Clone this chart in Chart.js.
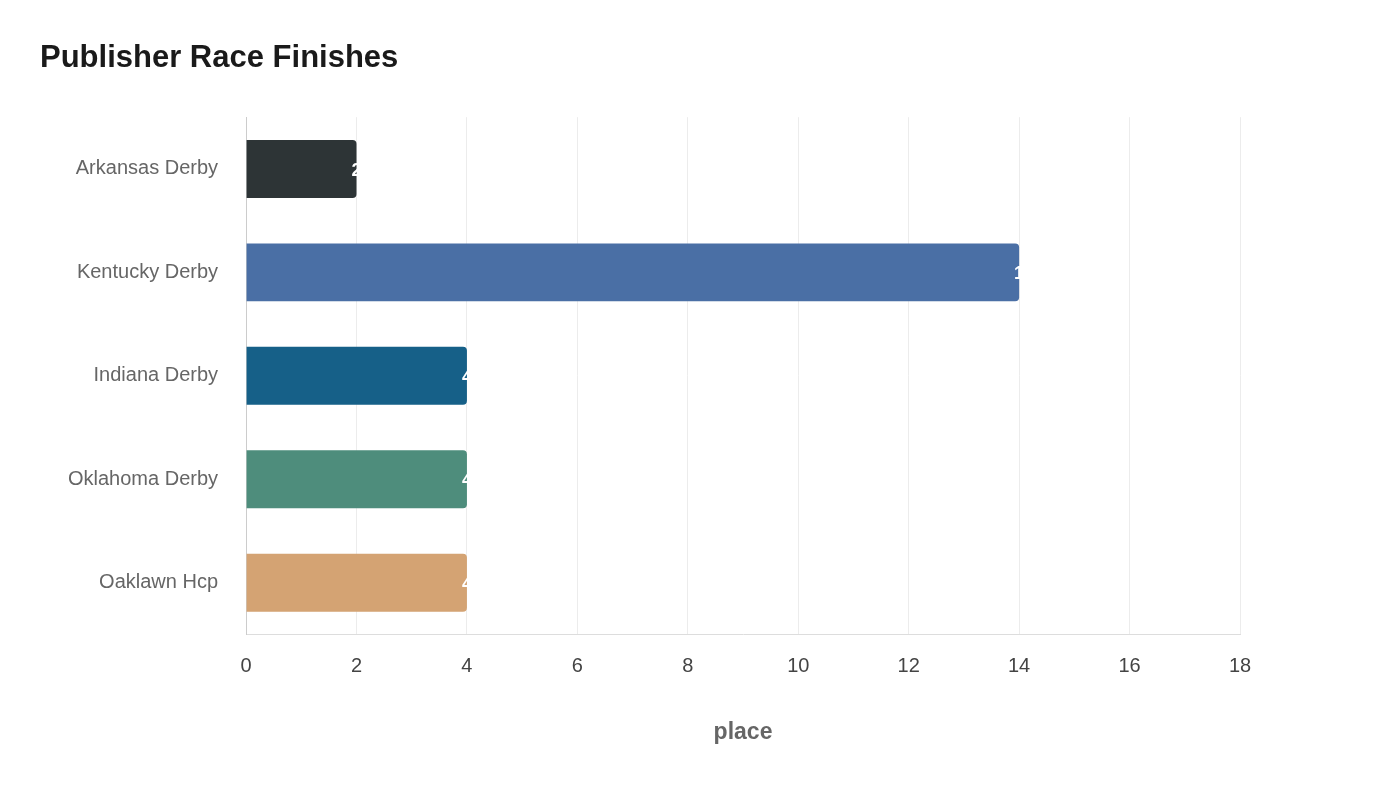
<!DOCTYPE html>
<html>
<head>
<meta charset="utf-8">
<script src="https://cdn.jsdelivr.net/npm/chart.js@4/dist/chart.umd.min.js"></script>
<style>
  body { margin: 0; background: #fff; }
  #wrap { width: 1400px; height: 800px; }
</style>
</head>
<body>
<div id="wrap"><canvas id="myChart"></canvas></div>
<script>
const races = ["Arkansas Derby", "Kentucky Derby", "Indiana Derby", "Oklahoma Derby", "Oaklawn Hcp"];
const places = [2, 14, 4, 4, 4];
const barColors = ["#2d3436", "#4a6fa5", "#166088", "#4e8d7c", "#d4a373"];

// white value labels just inside the bar end (they run off onto the white background)
const endLabels = {
  id: "endLabels",
  afterDatasetsDraw(chart) {
    const ctx = chart.ctx;
    const meta = chart.getDatasetMeta(0);
    ctx.save();
    ctx.fillStyle = "#ffffff";
    ctx.font = "bold 18px 'Liberation Sans', Arial, sans-serif";
    ctx.textAlign = "left";
    ctx.textBaseline = "middle";
    meta.data.forEach((bar, i) => {
      ctx.fillText(String(places[i]), bar.x - 5, bar.y + 2);
    });
    ctx.restore();
  }
};

new Chart(document.getElementById("myChart"), {
  type: "bar",
  data: {
    labels: races,
    datasets: [{
      data: places,
      backgroundColor: barColors,
      borderRadius: 4,
      borderSkipped: "start",
      barPercentage: 0.56,
      categoryPercentage: 1
    }]
  },
  options: {
    indexAxis: "y",
    responsive: true,
    maintainAspectRatio: false,
    animation: false,
    layout: { padding: { left: 40, right: 160, top: 40, bottom: 50 } },
    plugins: {
      legend: { display: false },
      tooltip: { enabled: false },
      title: {
        display: true,
        text: "Publisher Race Finishes",
        align: "start",
        color: "#1a1a1a",
        font: { family: "'Liberation Sans', Arial, sans-serif", size: 31, weight: "bold" },
        padding: { top: 0, bottom: 40 }
      }
    },
    scales: {
      x: {
        min: 0,
        max: 18,
        ticks: {
          stepSize: 2,
          color: "#444",
          padding: 20,
          font: { family: "'Liberation Sans', Arial, sans-serif", size: 20 }
        },
        grid: { color: "#ececec", drawTicks: false },
        border: { color: "#dddddd" },
        title: {
          display: true,
          text: "place",
          color: "#666",
          font: { family: "'Liberation Sans', Arial, sans-serif", size: 23, weight: "bold" },
          padding: { top: 20 }
        }
      },
      y: {
        ticks: {
          color: "#666",
          padding: 28,
          font: { family: "'Liberation Sans', Arial, sans-serif", size: 20 }
        },
        grid: { display: false, drawTicks: false },
        border: { color: "#cccccc" }
      }
    }
  },
  plugins: [endLabels]
});
</script>
</body>
</html>
